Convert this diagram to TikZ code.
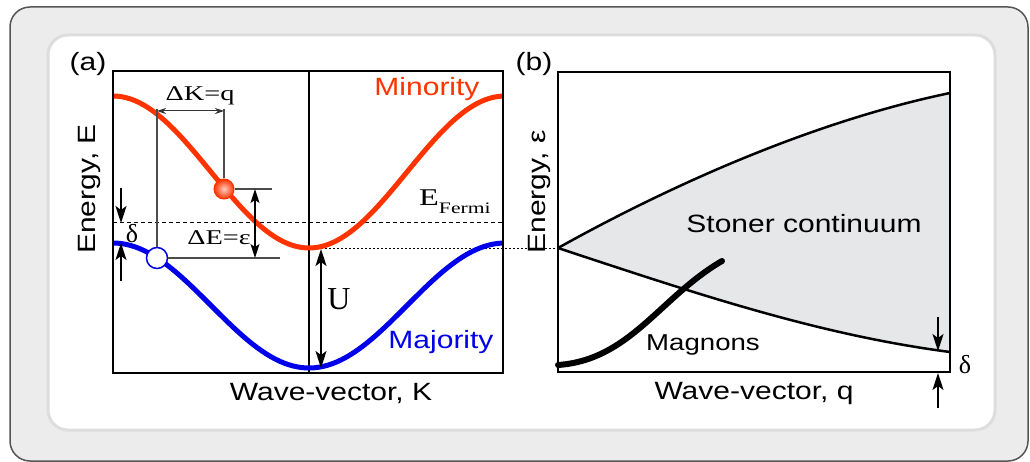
\documentclass[tikz,border=0pt]{standalone}
\usepackage{fontspec}
\setmainfont{Liberation Serif}
\newfontfamily\widesf[FakeStretch=1.2]{Liberation Sans}
\newfontfamily\widerm[FakeStretch=1.35]{Liberation Serif}
\definecolor{MinorityRed}{RGB}{255,51,0}
\definecolor{MajorityBlue}{RGB}{0,0,235}
\definecolor{StonerGray}{RGB}{230,231,233}
\definecolor{FrameGray}{RGB}{236,236,236}
\definecolor{FrameEdge}{RGB}{85,85,85}
\definecolor{PanelEdge}{RGB}{221,221,221}
\usetikzlibrary{arrows.meta,calc}

\begin{document}
\begin{tikzpicture}[x=1pt, y=-1pt,
    sflab/.style={font=\widesf\fontsize{25}{25}\selectfont, inner sep=0pt},
    rmlab/.style={font=\widerm\fontsize{21}{21}\selectfont, inner sep=0pt},
    guide/.style={draw=black!70, line width=1.3pt},
    dimarrow/.style={{Stealth[length=9pt,width=6pt]}-{Stealth[length=9pt,width=6pt]}, draw=black!80, line width=1pt},
    midarrow/.style={{Stealth[length=14pt,width=9pt,inset=3pt]}-{Stealth[length=14pt,width=9pt,inset=3pt]}, line width=1.4pt},
    bigarrow/.style={{Stealth[length=17pt,width=11pt,inset=4pt]}-{Stealth[length=17pt,width=11pt,inset=4pt]}, line width=1.6pt},
    deltaarrow/.style={-{Stealth[length=17pt,width=11pt,inset=4pt]}, line width=1.6pt}]
    \useasboundingbox (0,0) rectangle (1030,462);
    % frames
    \filldraw[fill=FrameGray, draw=FrameEdge, line width=1.5pt, rounded corners=20pt] (10,7) rectangle (1028,461);
    \filldraw[fill=white, draw=PanelEdge, line width=3pt, rounded corners=20pt] (48,35) rectangle (995,430);

    % (a) bands
    \coordinate (minBot) at (309,248);
    \coordinate (vtx) at (558,248);
    \draw[dash pattern=on 4pt off 3pt, line width=1pt] (113,223) -- (503,223);
    \draw[dash pattern=on 2pt off 2pt, line width=0.8pt] (minBot) -- (vtx);
    \draw[line width=1.5pt] (309,71) -- (309,373);
    \draw[MinorityRed, line width=5pt] plot[domain=113:503, samples=90] (\x, {172-76*cos((\x-113)*0.91837)});
    \draw[MajorityBlue, line width=5pt] plot[domain=113:503, samples=90] (\x, {305.5-62.5*cos((\x-113)*0.91837)});
    \draw[line width=2pt] (113,71) rectangle (503,373);

    % excitation
    \node[circle, minimum size=20pt, inner sep=0pt, shading=radial, inner color=MinorityRed!25!white, outer color=MinorityRed, draw=MinorityRed, line width=1pt] (elec) at (224,189) {};
    \node[circle, minimum size=21pt, inner sep=0pt, fill=white, draw=MajorityBlue, line width=1.5pt] (hole) at (157,258) {};
    \coordinate (kLeft) at (157,109);
    \coordinate (kRight) at (224,109);
    \coordinate (eTop) at (255,189);
    \coordinate (eBot) at (255,258);
    \draw[guide] (kLeft) -- (hole.north);
    \draw[guide] (kRight) -- (elec.north);
    \draw[guide] (elec.east) -- (272,189);
    \draw[guide] (hole.east) -- (280,258);
    \draw[dimarrow] ($(kLeft)+(0,2)$) -- ($(kRight)+(0,2)$);
    \draw[midarrow] (eTop) -- (eBot);
    \node[rmlab] (dK) at (200,96) {ΔK=q};
    \node[rmlab] (dE) at (219,238) {ΔE=ε};

    % gap U and delta
    \coordinate (uTop) at (321,249);
    \coordinate (uBot) at (321,368);
    \draw[bigarrow] (uTop) -- (uBot);
    \node[font=\fontsize{32}{32}\selectfont, inner sep=0pt] (gapU) at (339,299) {U};
    \coordinate (dA1) at (121,188);
    \coordinate (dA2) at (121,223);
    \coordinate (dA3) at (121,281);
    \coordinate (dA4) at (121,243);
    \draw[deltaarrow] (dA1) -- (dA2);
    \draw[deltaarrow] (dA3) -- (dA4);
    \node[font=\fontsize{26}{26}\selectfont, inner sep=0pt] (deltaA) at (132,234) {δ};
    \node[font=\widerm\fontsize{24}{24}\selectfont, inner sep=0pt, anchor=base west] (fermi) at (419,206) {E\raisebox{-8pt}{\fontsize{16}{16}\selectfont Fermi}};

    % (a) labels
    \node[sflab] (labA) at (88,64) {(a)};
    \node[sflab, MinorityRed] (minority) at (427,89) {Minority};
    \node[sflab, MajorityBlue] (majority) at (441,342) {Majority};
    \node[sflab, rotate=90] (eAxisA) at (89,189) {Energy, E};
    \node[sflab] (kAxis) at (331,393) {Wave-vector, K};

    % (b) Stoner continuum
    \fill[StonerGray] (vtx) .. controls (680,180) and (820,120) .. (950,93)
        -- (950,352) .. controls (820,335) and (700,295) .. (vtx) -- cycle;
    \draw[line width=2.5pt] (vtx) .. controls (680,180) and (820,120) .. (950,93);
    \draw[line width=2.5pt] (vtx) .. controls (700,295) and (820,335) .. (950,352);
    \draw[line width=6pt, line cap=round] (558,365) .. controls (630,360) and (660,297) .. (722,261);
    \draw[line width=2pt] (558,72) rectangle (950,372);
    \coordinate (dB1) at (938,317);
    \coordinate (dB2) at (938,351);
    \coordinate (dB3) at (938,408);
    \coordinate (dB4) at (938,373);
    \draw[deltaarrow] (dB1) -- (dB2);
    \draw[deltaarrow] (dB3) -- (dB4);
    \node[font=\fontsize{26}{26}\selectfont, inner sep=0pt] (deltaB) at (965,365) {δ};

    % (b) labels
    \node[sflab] (labB) at (534,64) {(b)};
    \node[sflab] (stoner) at (804,224) {Stoner continuum};
    \node[sflab, font=\widesf\fontsize{23}{23}\selectfont] (magnons) at (703,345) {Magnons};
    \node[sflab, rotate=90] (eAxisB) at (539,192) {Energy, ε};
    \node[sflab] (qAxis) at (754,393) {Wave-vector, q};
\end{tikzpicture}
\end{document}
